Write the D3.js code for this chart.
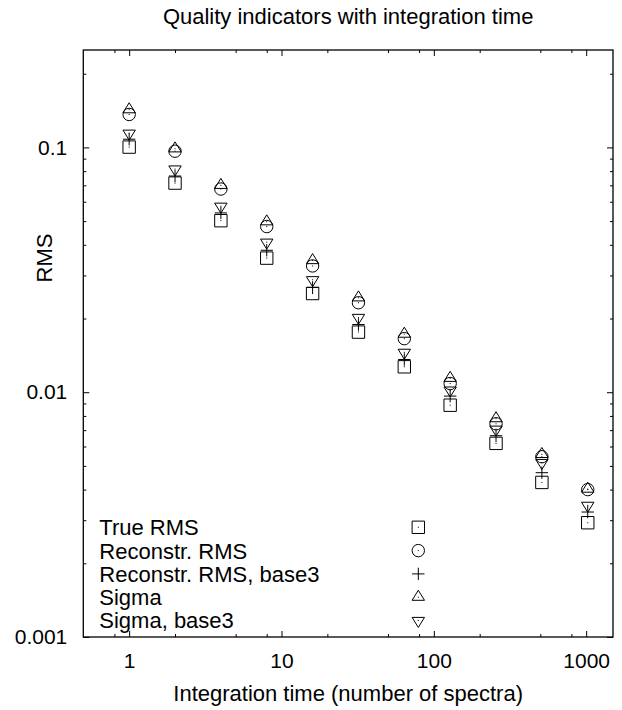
<!DOCTYPE html>
<meta charset="utf-8">
<title>Quality indicators</title>

<style>
    body { margin: 0; background: #fff; }
    svg text { font-family: "Liberation Sans", Arial, Helvetica, sans-serif; fill: #000; }
    .sym { fill: none; stroke: #000; stroke-width: 1px; }
</style>

<body>
<script src="https://cdn.jsdelivr.net/npm/d3@7"></script>

<script>
// the data
    var times = [1, 2, 4, 8, 16, 32, 64, 128, 256, 512, 1024];
    var trueRms    = [0.1003, 0.0715, 0.0502, 0.0353, 0.0253, 0.0176, 0.0127, 0.00885, 0.00618, 0.00428, 0.00293];
    var reconRms   = [0.1363, 0.0965, 0.0676, 0.0475, 0.0328, 0.0232, 0.01655, 0.01085, 0.00743, 0.00545, 0.00400];
    var reconBase3 = [0.1080, 0.0764, 0.0540, 0.0380, 0.0268, 0.0189, 0.0136, 0.00964, 0.00664, 0.00469, 0.00324];
    var sigma      = [0.1426, 0.0987, 0.0700, 0.0497, 0.0345, 0.0243, 0.01727, 0.0114, 0.00780, 0.00557, 0.00402];
    var sigmaBase3 = [0.1143, 0.0816, 0.0575, 0.0410, 0.0288, 0.0202, 0.01455, 0.0102, 0.00706, 0.00516, 0.00345];

    var seriesNames = ["True RMS", "Reconstr. RMS", "Reconstr. RMS, base3", "Sigma", "Sigma, base3"];
    var seriesShapes = ["box", "circle", "plus", "triU", "triD"];
    var seriesValues = [trueRms, reconRms, reconBase3, sigma, sigmaBase3];

    var xMajor = [1, 10, 100, 1000];
    var xMinor = [0.8, 2, 5, 8, 20, 50, 80, 200, 500, 800];
    var yMajor = [0.001, 0.01, 0.1];

// set the dimensions and margins of the graph
    var W = 622, H = 710;
    var margin = {top: 50, right: 9, bottom: 73, left: 83.3},
    width = W - margin.left - margin.right,
    height = H - margin.top - margin.bottom;

// set the ranges
    var x = d3.scaleLog().domain([0.5, 1500]).range([0, width]);
    var y = d3.scaleLog().domain([0.001, 0.25]).range([height, 0]);

    var yMinor = [];
    [0.001, 0.01, 0.1].forEach(function(d) {
        for (var k = 2; k <= 9; k++) { if (d * k <= 0.25) yMinor.push(+(d * k).toPrecision(3)); }
    });

    var svg = d3.select("body").append("svg")
    .attr("width", W)
    .attr("height", H)
    .append("g")
    .attr("transform", "translate(" + margin.left + "," + margin.top + ")");

// axes, ticks pointing inward, mirrored on top and right
    function axisGroup(axis, tx, ty) {
        var g = svg.append("g")
            .attr("transform", "translate(" + tx + "," + ty + ")")
            .style("font-size", "21px")
            .call(axis);
        g.select(".domain").remove();
        g.selectAll("line").attr("stroke", "#000").attr("stroke-width", 1);
        return g;
    }

    axisGroup(d3.axisBottom(x).tickValues(xMajor).tickSize(-6).tickPadding(16)
        .tickFormat(d3.format("d")), 0, height);
    axisGroup(d3.axisBottom(x).tickValues(xMinor).tickSize(-3).tickFormat(""), 0, height);
    axisGroup(d3.axisTop(x).tickValues(xMajor).tickSize(-6).tickFormat(""), 0, 0);
    axisGroup(d3.axisTop(x).tickValues(xMinor).tickSize(-3).tickFormat(""), 0, 0);

    axisGroup(d3.axisLeft(y).tickValues(yMajor).tickSize(-6).tickPadding(16)
        .tickFormat(function(d) { return String(d); }), 0, 0);
    axisGroup(d3.axisLeft(y).tickValues(yMinor).tickSize(-3).tickFormat(""), 0, 0);
    axisGroup(d3.axisRight(y).tickValues(yMajor).tickSize(-6).tickFormat(""), width, 0);
    axisGroup(d3.axisRight(y).tickValues(yMinor).tickSize(-3).tickFormat(""), width, 0);

    svg.selectAll(".tick text").attr("font-family", null).attr("fill", "#000");

// the frame
    svg.append("rect")
        .attr("width", width)
        .attr("height", height)
        .attr("fill", "none")
        .attr("stroke", "#000")
        .attr("stroke-width", 1.3);

// gnuplot-like point symbols
    var s = 6.2;
    function drawSymbol(g, shape, cx, cy) {
        if (shape == "circle") {
            g.append("circle").attr("class", "sym").attr("cx", cx).attr("cy", cy).attr("r", s);
        } else {
            var p;
            if (shape == "box") p = "M" + (cx - s) + "," + (cy - s) + "h" + 2 * s + "v" + 2 * s + "h" + (-2 * s) + "Z";
            if (shape == "plus") p = "M" + (cx - s) + "," + cy + "h" + 2 * s + "M" + cx + "," + (cy - s) + "v" + 2 * s;
            if (shape == "triU") p = "M" + cx + "," + (cy - 1.12 * s) + "L" + (cx + s) + "," + (cy + 0.5 * s) + "L" + (cx - s) + "," + (cy + 0.5 * s) + "Z";
            if (shape == "triD") p = "M" + cx + "," + (cy + 1.12 * s) + "L" + (cx + s) + "," + (cy - 0.5 * s) + "L" + (cx - s) + "," + (cy - 0.5 * s) + "Z";
            g.append("path").attr("class", "sym").attr("d", p);
        }
        if (shape != "plus") {
            g.append("rect").attr("x", cx - 0.5).attr("y", cy - 0.5)
                .attr("width", 1).attr("height", 1).attr("fill", "#000");
        }
    }

// Add the scatter points
    seriesValues.forEach(function(vals, i) {
        var g = svg.append("g");
        vals.forEach(function(v, j) {
            drawSymbol(g, seriesShapes[i], x(times[j]), y(v));
        });
    });

// the key
    var key = svg.append("g").attr("transform", "translate(0," + (527.3 - margin.top) + ")");
    seriesNames.forEach(function(name, i) {
        key.append("text")
            .attr("x", 99.3 - margin.left)
            .attr("y", i * 23.3)
            .attr("dy", "0.36em")
            .style("font-size", "22px")
            .text(name);
        drawSymbol(key, seriesShapes[i], 418.3 - margin.left, i * 23.3);
    });

// add a title
    svg.append("text")
        .attr("x", width / 2)
        .attr("y", 23.5 - margin.top)
        .attr("text-anchor", "middle")
        .style("font-size", "22px")
        .text("Quality indicators with integration time");

// axis labels
    svg.append("text")
        .attr("x", width / 2)
        .attr("y", 701 - margin.top)
        .attr("text-anchor", "middle")
        .style("font-size", "22px")
        .text("Integration time (number of spectra)");

    svg.append("text")
        .attr("transform", "translate(" + (51.5 - margin.left) + "," + (258 - margin.top) + ") rotate(-90)")
        .attr("text-anchor", "middle")
        .style("font-size", "22px")
        .text("RMS");
</script>
</body>
